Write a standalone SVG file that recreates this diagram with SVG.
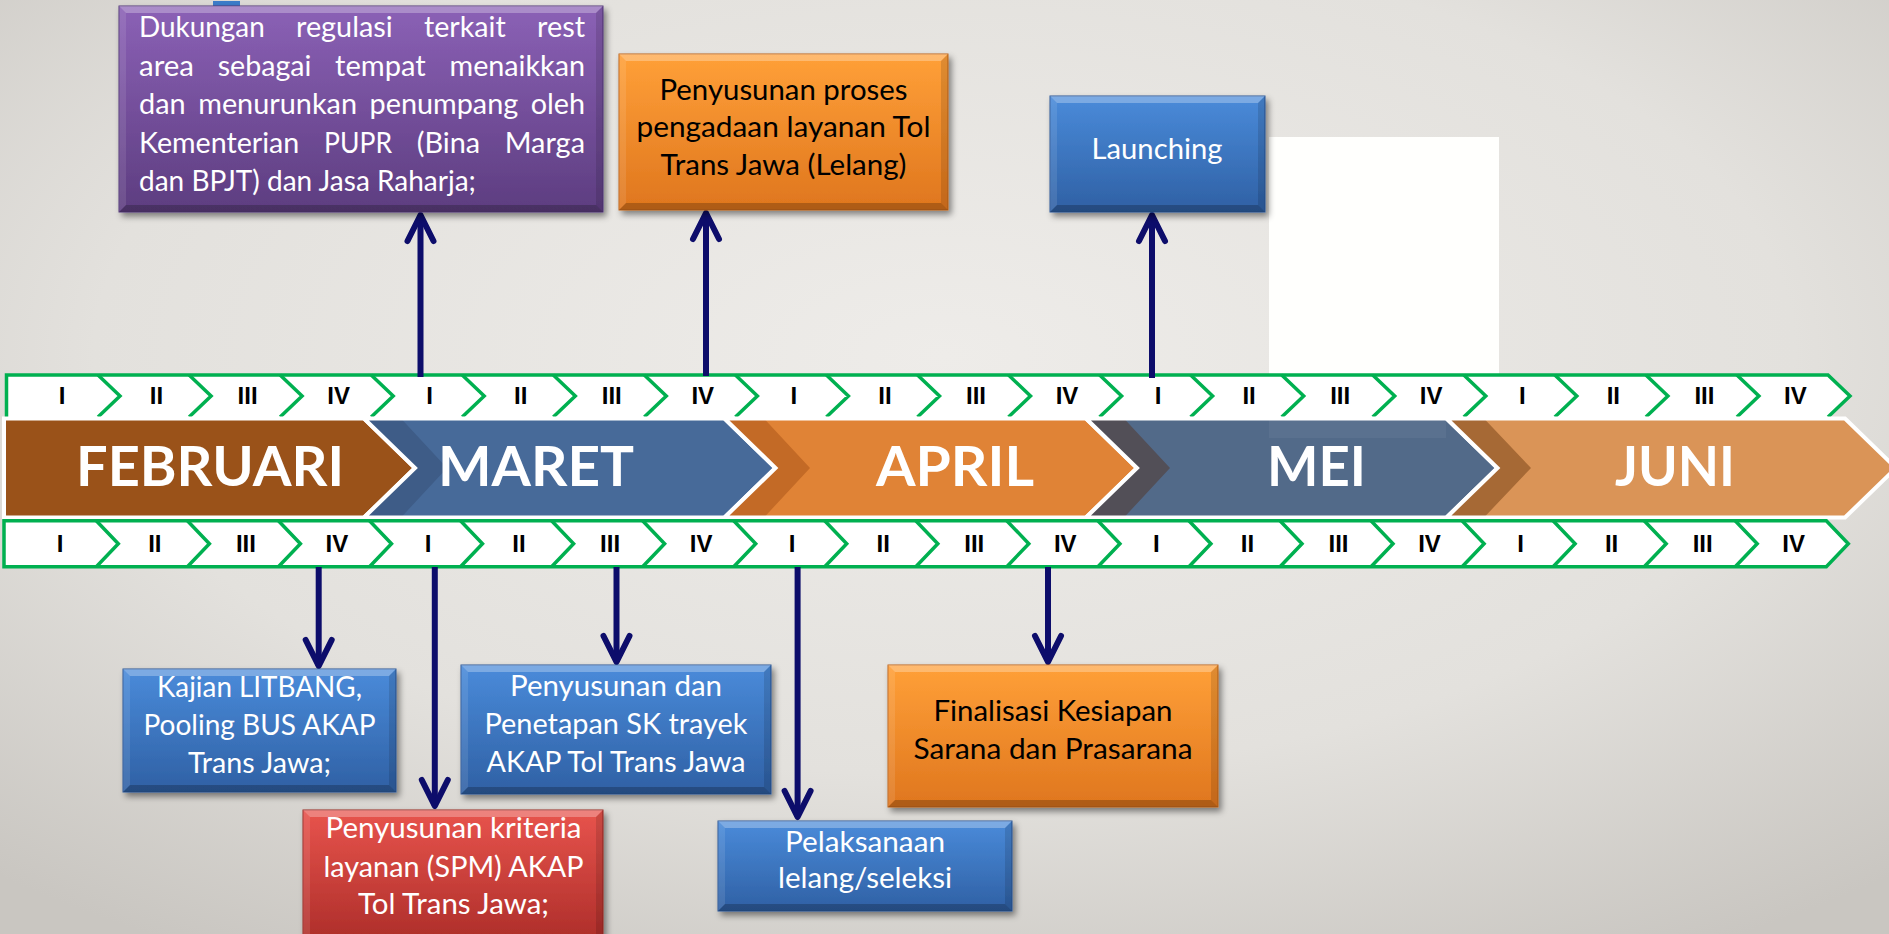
<svg xmlns="http://www.w3.org/2000/svg" width="1889" height="934" viewBox="0 0 1889 934">
<defs>
<radialGradient id="bg" cx="50%" cy="38%" r="75%">
<stop offset="0" stop-color="#EEECE9"/><stop offset="0.6" stop-color="#E3E1DD"/><stop offset="1" stop-color="#C9C6C1"/>
</radialGradient>
<linearGradient id="gBlue" x1="0" y1="0" x2="0" y2="1"><stop offset="0" stop-color="#4A8BDA"/><stop offset="1" stop-color="#2F60A4"/></linearGradient>
<linearGradient id="gOrange" x1="0" y1="0" x2="0" y2="1"><stop offset="0" stop-color="#FFA038"/><stop offset="1" stop-color="#DF761E"/></linearGradient>
<linearGradient id="gPurple" x1="0" y1="0" x2="0" y2="1"><stop offset="0" stop-color="#8B61B6"/><stop offset="1" stop-color="#5D3D80"/></linearGradient>
<linearGradient id="gRed" x1="0" y1="0" x2="0" y2="1"><stop offset="0" stop-color="#E8544D"/><stop offset="1" stop-color="#AE2E2A"/></linearGradient>
<filter id="sh" x="-10%" y="-10%" width="125%" height="130%">
<feDropShadow dx="3" dy="4" stdDeviation="3" flood-color="#000" flood-opacity="0.45"/>
</filter>
<marker id="ah" markerUnits="userSpaceOnUse" orient="auto" refX="0" refY="0" markerWidth="40" markerHeight="40" viewBox="-30 -20 40 40" overflow="visible">
<path d="M-26,-13 L0,0 L-26,13" fill="none" stroke="#0D0D6B" stroke-width="6" stroke-linecap="round" stroke-linejoin="round"/>
</marker>
<style>
.wk{font-family:"Liberation Sans",Arial,sans-serif;font-weight:bold;font-size:24px;fill:#000;text-anchor:middle}
.mo{font-family:Lato,"Open Sans",sans-serif;font-weight:bold;font-size:56px;fill:#FFFFFF;text-anchor:middle}
.bt{font-family:Lato,"Open Sans",sans-serif;font-size:28px;text-anchor:middle}
.pt{font-family:Lato,"Open Sans",sans-serif;font-size:28px;fill:#FFFFFF}
.wt{fill:#FFFFFF}
.kt{fill:#000000}
.grn{fill:none;stroke:#00B050;stroke-width:3.5;stroke-linejoin:miter}
.mout{fill:none;stroke:#FFFFFF;stroke-width:4;stroke-linejoin:miter}
.bvT{fill:#FFFFFF;fill-opacity:0.28}
.bvB{fill:#000000;fill-opacity:0.22}
.bvL{fill:#FFFFFF;fill-opacity:0.10}
.bvR{fill:#000000;fill-opacity:0.12}
.conn{fill:none;stroke:#0D0D6B;stroke-width:6;marker-end:url(#ah)}
</style>
</defs>

<rect x="0" y="0" width="1889" height="934" fill="url(#bg)"/>
<rect id="white-panel" x="1269" y="137" width="230" height="237" fill="#FFFFFD"/>
<rect id="blue-sliver" x="213" y="1" width="27" height="5" fill="#3B7BC8"/>

<!-- top week strip -->
<g id="weeks-top">
<path d="M6.5,375 H1828 L1850,396 L1828,417 H6.5 Z" fill="#FFFFFF"/>
<path class="grn" d="M6.5,417 V375 H1828 L1850,396 L1828,417"/>
<path class="grn" d="M98,375 L120,396 L98,417 M189.1,375 L211.1,396 L189.1,417 M280.1,375 L302.1,396 L280.1,417 M371.2,375 L393.2,396 L371.2,417 M462.2,375 L484.2,396 L462.2,417 M553.3,375 L575.3,396 L553.3,417 M644.3,375 L666.3,396 L644.3,417 M735.4,375 L757.4,396 L735.4,417 M826.4,375 L848.4,396 L826.4,417 M917.5,375 L939.5,396 L917.5,417 M1008.5,375 L1030.5,396 L1008.5,417 M1099.6,375 L1121.6,396 L1099.6,417 M1190.6,375 L1212.6,396 L1190.6,417 M1281.7,375 L1303.7,396 L1281.7,417 M1372.7,375 L1394.7,396 L1372.7,417 M1463.8,375 L1485.8,396 L1463.8,417 M1554.8,375 L1576.8,396 L1554.8,417 M1645.9,375 L1667.9,396 L1645.9,417 M1736.9,375 L1758.9,396 L1736.9,417"/>
<g class="wk">
<text x="62" y="404">I</text><text x="156.5" y="404">II</text><text x="247.6" y="404">III</text><text x="338.6" y="404">IV</text>
<text x="429.7" y="404">I</text><text x="520.7" y="404">II</text><text x="611.8" y="404">III</text><text x="702.8" y="404">IV</text>
<text x="793.9" y="404">I</text><text x="884.9" y="404">II</text><text x="976" y="404">III</text><text x="1067" y="404">IV</text>
<text x="1158.1" y="404">I</text><text x="1249.1" y="404">II</text><text x="1340.2" y="404">III</text><text x="1431.2" y="404">IV</text>
<text x="1522.3" y="404">I</text><text x="1613.3" y="404">II</text><text x="1704.4" y="404">III</text><text x="1795.4" y="404">IV</text>
</g>
</g>

<!-- month band -->
<g id="month-feb">
<polygon points="4,418.5 364,418.5 415,468 364,517.5 4,517.5" fill="#9A5219"/>
<polygon class="mout" points="4,418.5 364,418.5 415,468 364,517.5 4,517.5"/>
<text class="mo" x="210" y="486" textLength="268" lengthAdjust="spacingAndGlyphs">FEBRUARI</text>
</g>
<g id="month-maret">
<polygon points="364,418.5 724.5,418.5 775.5,468 724.5,517.5 364,517.5 415,468" fill="#476A99"/>
<polygon points="364,418.5 401,418.5 447,468 401,517.5 364,517.5 415,468" fill="#3E5C87"/>
<polygon class="mout" points="364,418.5 724.5,418.5 775.5,468 724.5,517.5 364,517.5 415,468"/>
<text class="mo" x="536" y="486" textLength="196" lengthAdjust="spacingAndGlyphs">MARET</text>
</g>
<g id="month-april">
<polygon points="724.5,418.5 1086,418.5 1137,468 1086,517.5 724.5,517.5 775.5,468" fill="#E08336"/>
<polygon points="724.5,418.5 764,418.5 810,468 764,517.5 724.5,517.5 775.5,468" fill="#C36A26"/>
<polygon class="mout" points="724.5,418.5 1086,418.5 1137,468 1086,517.5 724.5,517.5 775.5,468"/>
<text class="mo" x="955" y="486" textLength="158" lengthAdjust="spacingAndGlyphs">APRIL</text>
</g>
<g id="month-mei">
<polygon points="1086,418.5 1446.5,418.5 1497.5,468 1446.5,517.5 1086,517.5 1137,468" fill="#526A89"/>
<polygon points="1086,418.5 1124,418.5 1170,468 1124,517.5 1086,517.5 1137,468" fill="#524F57"/>
<rect x="1269" y="419" width="177" height="19" fill="#FFFFFF" fill-opacity="0.05"/>
<polygon class="mout" points="1086,418.5 1446.5,418.5 1497.5,468 1446.5,517.5 1086,517.5 1137,468"/>
<text class="mo" x="1316.5" y="486" textLength="99" lengthAdjust="spacingAndGlyphs">MEI</text>
</g>
<g id="month-juni">
<polygon points="1446.5,418.5 1845,418.5 1896,468 1845,517.5 1446.5,517.5 1497.5,468" fill="#DA9457"/>
<polygon points="1446.5,418.5 1484,418.5 1531,468 1484,517.5 1446.5,517.5 1497.5,468" fill="#A66935"/>
<polygon class="mout" points="1446.5,418.5 1845,418.5 1896,468 1845,517.5 1446.5,517.5 1497.5,468"/>
<text class="mo" x="1675" y="486" textLength="120" lengthAdjust="spacingAndGlyphs">JUNI</text>
</g>

<!-- bottom week strip -->
<g id="weeks-bottom">
<path d="M4,520.7 H1826.3 L1848.3,543.7 L1826.3,566.7 H4 Z" fill="#FFFFFF"/>
<path class="grn" d="M4,520.7 H1826.3 L1848.3,543.7 L1826.3,566.7 H4 Z"/>
<path class="grn" d="M96.3,520.7 L118.3,543.7 L96.3,566.7 M187.4,520.7 L209.4,543.7 L187.4,566.7 M278.4,520.7 L300.4,543.7 L278.4,566.7 M369.5,520.7 L391.5,543.7 L369.5,566.7 M460.5,520.7 L482.5,543.7 L460.5,566.7 M551.6,520.7 L573.6,543.7 L551.6,566.7 M642.6,520.7 L664.6,543.7 L642.6,566.7 M733.7,520.7 L755.7,543.7 L733.7,566.7 M824.7,520.7 L846.7,543.7 L824.7,566.7 M915.8,520.7 L937.8,543.7 L915.8,566.7 M1006.8,520.7 L1028.8,543.7 L1006.8,566.7 M1097.9,520.7 L1119.9,543.7 L1097.9,566.7 M1188.9,520.7 L1210.9,543.7 L1188.9,566.7 M1280,520.7 L1302,543.7 L1280,566.7 M1371,520.7 L1393,543.7 L1371,566.7 M1462.1,520.7 L1484.1,543.7 L1462.1,566.7 M1553.1,520.7 L1575.1,543.7 L1553.1,566.7 M1644.2,520.7 L1666.2,543.7 L1644.2,566.7 M1735.2,520.7 L1757.2,543.7 L1735.2,566.7"/>
<g class="wk">
<text x="60" y="552">I</text><text x="154.8" y="552">II</text><text x="245.9" y="552">III</text><text x="336.9" y="552">IV</text>
<text x="428" y="552">I</text><text x="519" y="552">II</text><text x="610.1" y="552">III</text><text x="701.1" y="552">IV</text>
<text x="792.2" y="552">I</text><text x="883.2" y="552">II</text><text x="974.3" y="552">III</text><text x="1065.3" y="552">IV</text>
<text x="1156.4" y="552">I</text><text x="1247.4" y="552">II</text><text x="1338.5" y="552">III</text><text x="1429.5" y="552">IV</text>
<text x="1520.6" y="552">I</text><text x="1611.6" y="552">II</text><text x="1702.7" y="552">III</text><text x="1793.7" y="552">IV</text>
</g>
</g>

<!-- connectors -->
<g id="connectors">
<path class="conn" d="M420.5,377 V215"/>
<path class="conn" d="M706,376 V213"/>
<path class="conn" d="M1152,378 V215"/>
<path class="conn" d="M318.7,567 V666"/>
<path class="conn" d="M434.8,567 V806"/>
<path class="conn" d="M616.5,567 V662"/>
<path class="conn" d="M797.6,567 V817"/>
<path class="conn" d="M1048,567 V662"/>
</g>

<!-- boxes -->
<g id="box-dukungan">
<g filter="url(#sh)">
<rect x="119" y="6" width="484" height="206" fill="url(#gPurple)" stroke="#55387A" stroke-width="1"/>
<path class="bvT" d="M119,6 H603 L596,13 H126 Z"/><path class="bvB" d="M119,212 H603 L596,205 H126 Z"/>
<path class="bvL" d="M119,6 L126,13 V205 L119,212 Z"/><path class="bvR" d="M603,6 L596,13 V205 L603,212 Z"/>
</g>
<g class="pt">
<text x="139" y="37" textLength="125.7" lengthAdjust="spacingAndGlyphs">Dukungan</text>
<text x="296" y="37" textLength="96.7" lengthAdjust="spacingAndGlyphs">regulasi</text>
<text x="424" y="37" textLength="81.7" lengthAdjust="spacingAndGlyphs">terkait</text>
<text x="537" y="37" textLength="48" lengthAdjust="spacingAndGlyphs">rest</text>
<text x="139" y="75.5" textLength="55" lengthAdjust="spacingAndGlyphs">area</text>
<text x="217.7" y="75.5" textLength="93.7" lengthAdjust="spacingAndGlyphs">sebagai</text>
<text x="335.1" y="75.5" textLength="90.6" lengthAdjust="spacingAndGlyphs">tempat</text>
<text x="449.5" y="75.5" textLength="135.5" lengthAdjust="spacingAndGlyphs">menaikkan</text>
<text x="139" y="114" textLength="46.6" lengthAdjust="spacingAndGlyphs">dan</text>
<text x="198.2" y="114" textLength="158.8" lengthAdjust="spacingAndGlyphs">menurunkan</text>
<text x="369.6" y="114" textLength="148.6" lengthAdjust="spacingAndGlyphs">penumpang</text>
<text x="530.7" y="114" textLength="54.3" lengthAdjust="spacingAndGlyphs">oleh</text>
<text x="139" y="152.5" textLength="160.3" lengthAdjust="spacingAndGlyphs">Kementerian</text>
<text x="324" y="152.5" textLength="68" lengthAdjust="spacingAndGlyphs">PUPR</text>
<text x="416.7" y="152.5" textLength="63.4" lengthAdjust="spacingAndGlyphs">(Bina</text>
<text x="504.7" y="152.5" textLength="80.3" lengthAdjust="spacingAndGlyphs">Marga</text>
<text x="139" y="191">dan BPJT) dan Jasa Raharja;</text>
</g>
</g>

<g id="box-pengadaan">
<g filter="url(#sh)">
<rect x="619" y="54" width="329" height="156" fill="url(#gOrange)" stroke="#C0651A" stroke-width="1"/>
<path class="bvT" d="M619,54 H948 L941,61 H626 Z"/><path class="bvB" d="M619,210 H948 L941,203 H626 Z"/>
<path class="bvL" d="M619,54 L626,61 V203 L619,210 Z"/><path class="bvR" d="M948,54 L941,61 V203 L948,210 Z"/>
</g>
<text class="bt kt" x="783.5" y="99.5" textLength="248" lengthAdjust="spacingAndGlyphs">Penyusunan proses</text>
<text class="bt kt" x="783.5" y="137" textLength="294" lengthAdjust="spacingAndGlyphs">pengadaan layanan Tol</text>
<text class="bt kt" x="783.5" y="174.5" textLength="246" lengthAdjust="spacingAndGlyphs">Trans Jawa (Lelang)</text>
</g>

<g id="box-launching">
<g filter="url(#sh)">
<rect x="1050" y="96" width="215" height="116" fill="url(#gBlue)" stroke="#2B5797" stroke-width="1"/>
<path class="bvT" d="M1050,96 H1265 L1258,103 H1057 Z"/><path class="bvB" d="M1050,212 H1265 L1258,205 H1057 Z"/>
<path class="bvL" d="M1050,96 L1057,103 V205 L1050,212 Z"/><path class="bvR" d="M1265,96 L1258,103 V205 L1265,212 Z"/>
</g>
<text class="bt wt" x="1157" y="159" textLength="131" lengthAdjust="spacingAndGlyphs">Launching</text>
</g>

<g id="box-kajian">
<g filter="url(#sh)">
<rect x="123" y="669" width="273" height="123" fill="url(#gBlue)" stroke="#2B5797" stroke-width="1"/>
<path class="bvT" d="M123,669 H396 L389,676 H130 Z"/><path class="bvB" d="M123,792 H396 L389,785 H130 Z"/>
<path class="bvL" d="M123,669 L130,676 V785 L123,792 Z"/><path class="bvR" d="M396,669 L389,676 V785 L396,792 Z"/>
</g>
<text class="bt wt" x="259.5" y="697" textLength="205" lengthAdjust="spacingAndGlyphs">Kajian LITBANG,</text>
<text class="bt wt" x="259.5" y="735" textLength="232" lengthAdjust="spacingAndGlyphs">Pooling BUS AKAP</text>
<text class="bt wt" x="259.5" y="773" textLength="143" lengthAdjust="spacingAndGlyphs">Trans Jawa;</text>
</g>

<g id="box-sk-trayek">
<g filter="url(#sh)">
<rect x="461" y="665" width="310" height="129" fill="url(#gBlue)" stroke="#2B5797" stroke-width="1"/>
<path class="bvT" d="M461,665 H771 L764,672 H468 Z"/><path class="bvB" d="M461,794 H771 L764,787 H468 Z"/>
<path class="bvL" d="M461,665 L468,672 V787 L461,794 Z"/><path class="bvR" d="M771,665 L764,672 V787 L771,794 Z"/>
</g>
<text class="bt wt" x="616" y="696" textLength="212" lengthAdjust="spacingAndGlyphs">Penyusunan dan</text>
<text class="bt wt" x="616" y="734" textLength="263" lengthAdjust="spacingAndGlyphs">Penetapan SK trayek</text>
<text class="bt wt" x="616" y="772" textLength="259" lengthAdjust="spacingAndGlyphs">AKAP Tol Trans Jawa</text>
</g>

<g id="box-kriteria">
<g filter="url(#sh)">
<rect x="303" y="810" width="300" height="130" fill="url(#gRed)" stroke="#9A2826" stroke-width="1"/>
<path class="bvT" d="M303,810 H603 L596,817 H310 Z"/>
<path class="bvL" d="M303,810 L310,817 V940 L303,940 Z"/><path class="bvR" d="M603,810 L596,817 V940 L603,940 Z"/>
</g>
<text class="bt wt" x="453.5" y="838" textLength="256" lengthAdjust="spacingAndGlyphs">Penyusunan kriteria</text>
<text class="bt wt" x="453.5" y="876.5" textLength="260" lengthAdjust="spacingAndGlyphs">layanan (SPM) AKAP</text>
<text class="bt wt" x="453.5" y="914" textLength="191" lengthAdjust="spacingAndGlyphs">Tol Trans Jawa;</text>
</g>

<g id="box-pelaksanaan">
<g filter="url(#sh)">
<rect x="718" y="821" width="294" height="90" fill="url(#gBlue)" stroke="#2B5797" stroke-width="1"/>
<path class="bvT" d="M718,821 H1012 L1005,828 H725 Z"/><path class="bvB" d="M718,911 H1012 L1005,904 H725 Z"/>
<path class="bvL" d="M718,821 L725,828 V904 L718,911 Z"/><path class="bvR" d="M1012,821 L1005,828 V904 L1012,911 Z"/>
</g>
<text class="bt wt" x="865" y="851.5" textLength="160" lengthAdjust="spacingAndGlyphs">Pelaksanaan</text>
<text class="bt wt" x="865" y="888" textLength="174" lengthAdjust="spacingAndGlyphs">lelang/seleksi</text>
</g>

<g id="box-finalisasi">
<g filter="url(#sh)">
<rect x="888" y="665" width="330" height="142" fill="url(#gOrange)" stroke="#C0651A" stroke-width="1"/>
<path class="bvT" d="M888,665 H1218 L1211,672 H895 Z"/><path class="bvB" d="M888,807 H1218 L1211,800 H895 Z"/>
<path class="bvL" d="M888,665 L895,672 V800 L888,807 Z"/><path class="bvR" d="M1218,665 L1211,672 V800 L1218,807 Z"/>
</g>
<text class="bt kt" x="1053" y="721" textLength="239" lengthAdjust="spacingAndGlyphs">Finalisasi Kesiapan</text>
<text class="bt kt" x="1053" y="759" textLength="279" lengthAdjust="spacingAndGlyphs">Sarana dan Prasarana</text>
</g>
</svg>
